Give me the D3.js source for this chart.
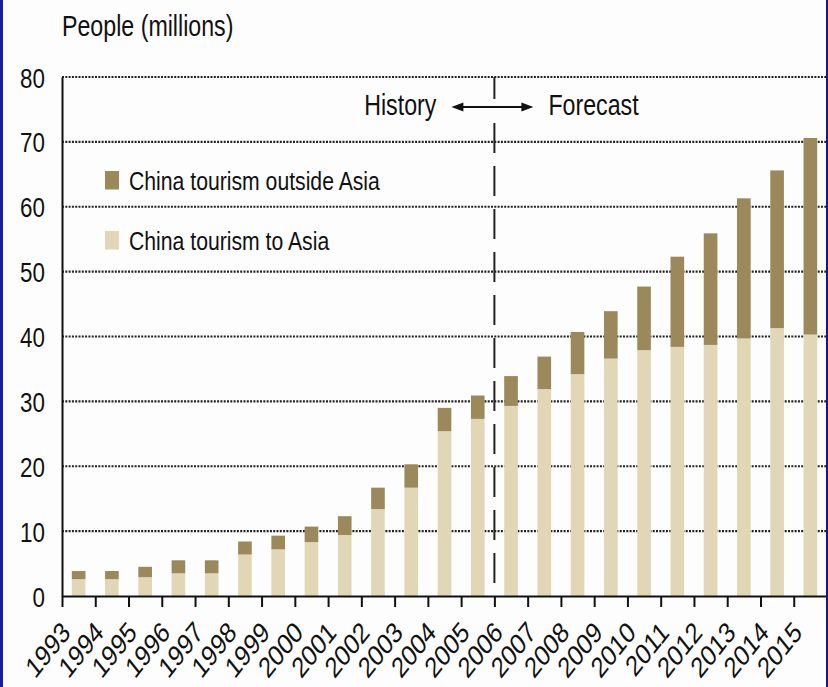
<!DOCTYPE html>
<html>
<head>
<meta charset="utf-8">
<script src="https://cdn.jsdelivr.net/npm/d3@7"></script>
<style>
  html, body { margin: 0; padding: 0; background: #fff; }
  svg { display: block; font-family: "Liberation Sans", Arial, Helvetica, sans-serif; }
</style>
</head>
<body>
<svg id="chart" width="828" height="687"></svg>
<script>
// Chinese outbound tourists, millions of people
const years = [1993, 1994, 1995, 1996, 1997, 1998, 1999, 2000, 2001, 2002, 2003, 2004,
               2005, 2006, 2007, 2008, 2009, 2010, 2011, 2012, 2013, 2014, 2015];
const toAsia = [2.6, 2.6, 2.9, 3.5, 3.5, 6.4, 7.2, 8.3, 9.4, 13.4, 16.7, 25.4,
                27.3, 29.3, 31.9, 34.2, 36.6, 37.9, 38.4, 38.7, 39.7, 41.3, 40.3];
const outsideAsia = [1.25, 1.25, 1.6, 2.0, 2.0, 2.0, 2.1, 2.4, 2.9, 3.3, 3.6, 3.6,
                     3.6, 4.6, 5.0, 6.5, 7.3, 9.8, 13.9, 17.2, 21.6, 24.3, 30.3];
const yTicks = [0, 10, 20, 30, 40, 50, 60, 70, 80];
const seriesKeys = ["outside", "asia"];
const seriesNames = ["China tourism outside Asia", "China tourism to Asia"];
const seriesColors = ["#9b885b", "#e1d6b5"];
const yTitle = "People (millions)";
const firstForecastYear = 2006;
const historyLabel = "History";
const forecastLabel = "Forecast";

const W = 828, H = 687;
const plotLeft = 62, plotRight = 827, plotTop = 77, plotBottom = 596;
const K = 0.8;            // horizontal squeeze giving the narrow typeface look
const ink = "#111111";

const svg = d3.select("#chart");
svg.append("rect").attr("width", W).attr("height", H).attr("fill", "#fdfdfd");

const x = d3.scaleBand().domain(years).range([plotLeft, plotRight])
  .paddingInner(0.59).paddingOuter(0.295);
const edge = d3.scaleLinear().domain([0, years.length]).range([plotLeft, plotRight]);
const y = d3.scaleLinear().domain([0, 80]).range([plotBottom, plotTop]);

// dotted horizontal gridlines
svg.append("g").selectAll("line")
  .data(yTicks.filter(v => v > 0)).join("line")
  .attr("x1", plotLeft).attr("x2", plotRight)
  .attr("y1", d => y(d)).attr("y2", d => y(d))
  .attr("stroke", "#222").attr("stroke-width", 2.2)
  .attr("stroke-dasharray", "2,1.3");

// stacked bars
const rows = years.map((yr, i) => ({ year: yr, asia: toAsia[i], outside: outsideAsia[i] }));
const stacked = d3.stack().keys(["asia", "outside"])(rows);
const colorOf = key => seriesColors[seriesKeys.indexOf(key)];
svg.append("g").selectAll("g").data(stacked).join("g")
  .attr("fill", d => colorOf(d.key))
  .selectAll("rect").data(d => d).join("rect")
  .attr("x", d => x(d.data.year))
  .attr("width", x.bandwidth())
  .attr("y", d => y(d[1]))
  .attr("height", d => y(d[0]) - y(d[1]));

// history / forecast divider
const divX = edge(years.indexOf(firstForecastYear));
const divider = svg.append("g").attr("stroke", "#222").attr("stroke-width", 2);
divider.append("line")
  .attr("x1", divX).attr("x2", divX).attr("y1", y(80)).attr("y2", y(80) + 22);
divider.append("line")
  .attr("x1", divX).attr("x2", divX).attr("y1", y(80) + 46).attr("y2", y(0))
  .attr("stroke-dasharray", "30,13");

// y axis
const yAxis = svg.append("g").attr("transform", `translate(${plotLeft},0)`)
  .call(d3.axisLeft(y).tickValues(yTicks).tickSize(0).tickSizeOuter(0).tickPadding(0));
yAxis.attr("font-family", null).attr("font-size", null);
yAxis.select(".domain").attr("stroke", ink).attr("stroke-width", 2);
yAxis.selectAll("text")
  .attr("x", -17 / K).attr("dy", "0.36em")
  .attr("transform", `scale(${K},1)`)
  .attr("font-size", 28).attr("fill", ink);

// x axis with ticks on category boundaries
const xAxis = svg.append("g").attr("transform", `translate(0,${plotBottom})`)
  .call(d3.axisBottom(edge).tickValues(d3.range(years.length + 1))
    .tickFormat("").tickSize(11).tickSizeOuter(0));
xAxis.select(".domain").attr("stroke", ink).attr("stroke-width", 2);
xAxis.selectAll(".tick line").attr("stroke", ink).attr("stroke-width", 2);

svg.append("g").selectAll("text").data(years).join("text")
  .attr("transform", d => `translate(${x(d) + x.bandwidth() / 2 - 7},${plotBottom + 38}) scale(${K},1) rotate(-45)`)
  .attr("text-anchor", "end")
  .attr("font-size", 29).attr("fill", ink)
  .text(d => d);

// axis title
svg.append("text")
  .attr("transform", `translate(${plotLeft},36) scale(${K},1)`)
  .attr("font-size", 29).attr("fill", ink)
  .text(yTitle);

// legend
const legend = svg.append("g").selectAll("g").data(seriesNames).join("g")
  .attr("transform", (d, i) => `translate(105,${171 + i * 60})`);
legend.append("rect")
  .attr("width", 14).attr("height", 18.5)
  .attr("fill", (d, i) => seriesColors[i]);
legend.append("text")
  .attr("transform", `translate(24,18.5) scale(${K},1)`)
  .attr("font-size", 26.5).attr("fill", ink)
  .text(d => d);

// history <-> forecast annotation
const annY = 107;
svg.append("text")
  .attr("transform", `translate(${divX - 58},115) scale(${K},1)`)
  .attr("text-anchor", "end").attr("font-size", 29).attr("fill", ink)
  .text(historyLabel);
svg.append("text")
  .attr("transform", `translate(${divX + 54},115) scale(${K},1)`)
  .attr("font-size", 29).attr("fill", ink)
  .text(forecastLabel);
const arrow = svg.append("g").attr("fill", ink).attr("stroke", ink);
arrow.append("line")
  .attr("x1", divX - 38).attr("x2", divX + 34)
  .attr("y1", annY).attr("y2", annY).attr("stroke-width", 2);
arrow.append("path").attr("stroke", "none")
  .attr("d", `M${divX - 43},${annY} L${divX - 31},${annY - 4.5} L${divX - 31},${annY + 4.5} Z`);
arrow.append("path").attr("stroke", "none")
  .attr("d", `M${divX + 39},${annY} L${divX + 27},${annY - 4.5} L${divX + 27},${annY + 4.5} Z`);

// frame edges
svg.append("rect").attr("x", 0).attr("y", 0).attr("width", 3).attr("height", H).attr("fill", "#1b1ba6");
svg.append("rect").attr("x", 826).attr("y", 0).attr("width", 2).attr("height", H).attr("fill", "#16168c");
</script>
</body>
</html>
